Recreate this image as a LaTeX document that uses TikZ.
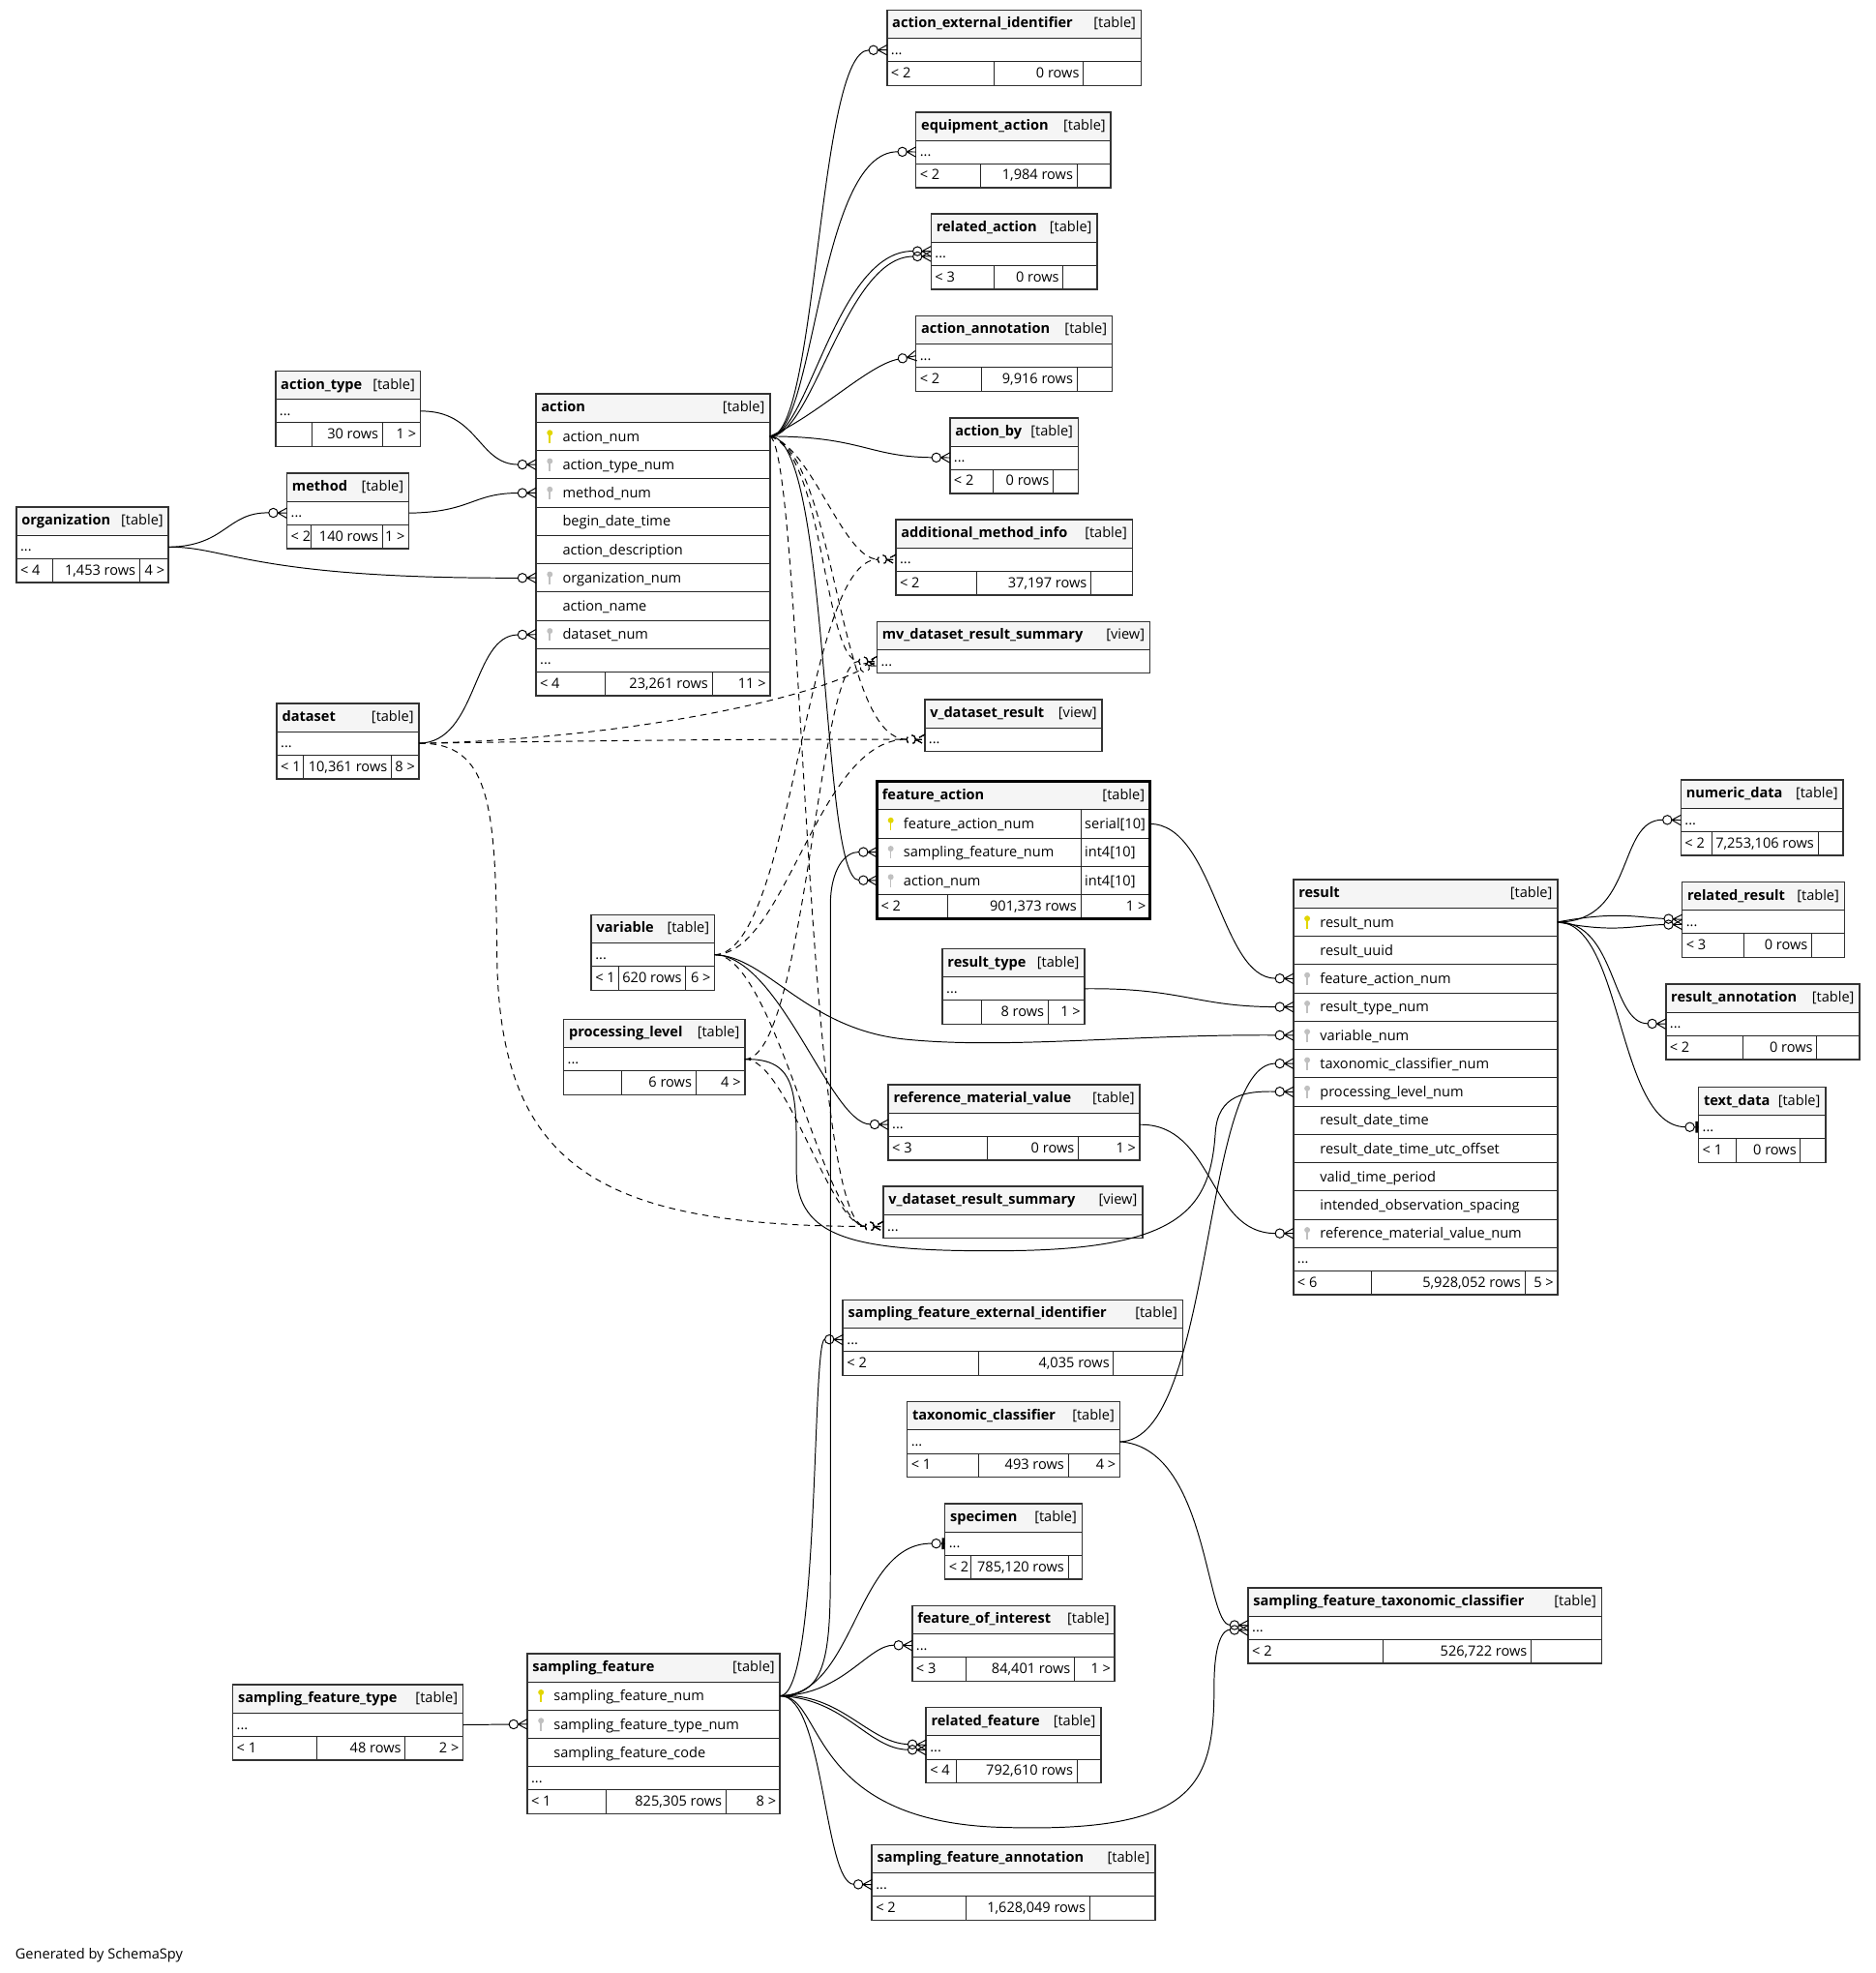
\documentclass[tikz,border=0pt]{standalone}
\usepackage{fontspec}
\setmainfont{Open Sans}
\usetikzlibrary{arrows.meta}
\definecolor{keyY}{RGB}{226,214,0}
\definecolor{keyG}{RGB}{192,192,192}
\definecolor{hdGray}{RGB}{245,245,245}

% zero-or-many and zero-or-one ends
\pgfdeclarearrow{
  name=crowo,
  setup code={
    \pgfarrowssettipend{0pt}
    \pgfarrowssetlineend{-14.4pt}
    \pgfarrowssetbackend{-14.4pt}
    \pgfarrowssetvisualbackend{-14.4pt}
    \pgfarrowshullpoint{0pt}{4pt}
    \pgfarrowshullpoint{0pt}{-4pt}
    \pgfarrowshullpoint{-14.4pt}{0pt}
  },
  drawing code={
    \pgfpathmoveto{\pgfqpoint{0pt}{4pt}}
    \pgfpathlineto{\pgfqpoint{-7.2pt}{0pt}}
    \pgfpathlineto{\pgfqpoint{0pt}{-4pt}}
    \pgfpathmoveto{\pgfqpoint{-7.2pt}{0pt}}
    \pgfpathlineto{\pgfqpoint{0pt}{0pt}}
    \pgfusepathqstroke
    \pgfpathcircle{\pgfqpoint{-10.8pt}{0pt}}{3.6pt}
    \pgfusepathqstroke
  }
}
\pgfdeclarearrow{
  name=baro,
  setup code={
    \pgfarrowssettipend{0pt}
    \pgfarrowssetlineend{-10.5pt}
    \pgfarrowssetbackend{-10.5pt}
    \pgfarrowssetvisualbackend{-10.5pt}
    \pgfarrowshullpoint{0pt}{4.5pt}
    \pgfarrowshullpoint{0pt}{-4.5pt}
    \pgfarrowshullpoint{-10.5pt}{0pt}
  },
  drawing code={
    \pgfpathmoveto{\pgfqpoint{-3.3pt}{0pt}}
    \pgfpathlineto{\pgfqpoint{0pt}{0pt}}
    \pgfusepathqstroke
    \pgfpathcircle{\pgfqpoint{-6.9pt}{0pt}}{3.6pt}
    \pgfusepathqstroke
    \pgfsetlinewidth{2pt}
    \pgfpathmoveto{\pgfqpoint{-1.4pt}{4.5pt}}
    \pgfpathlineto{\pgfqpoint{-1.4pt}{-4.5pt}}
    \pgfusepathqstroke
  }
}

% table pieces
\newcommand{\dbhead}[6]{%
  \node[dbcell,fill=hdGray,minimum width=#4,minimum height=22.5] (#1) at (#2,#3) {};
  \node[dbtext,font=\fontsize{11.2}{13}\selectfont\bfseries] (#1-n) at ([xshift=4,yshift=-3]#1.west) {#5};
  \node[dbtext,anchor=base east] (#1-k) at ([xshift=-4,yshift=-3]#1.east) {[#6]};}
\newcommand{\dbcol}[5][]{%
  \node[dbcell,minimum width=#4,minimum height=22.5] (#2) at (#3.south west) {};
  \node[dbtext] (#2-n) at ([xshift=21,yshift=-4]#2.west) {#5};
  \if\relax\detokenize{#1}\relax\else\pic[#1] at ([xshift=11]#2.west) {dbkey};\fi}
\newcommand{\dbtype}[2]{%
  \node[dbcell,minimum width=55,minimum height=22.5] (#1t) at (#1.north east) {};
  \node[dbtext] (#1t-n) at ([xshift=3,yshift=-4]#1t.west) {#2};}
\newcommand{\dbdots}[3]{%
  \node[dbcell,minimum width=#3,minimum height=18.5] (#1) at (#2.south west) {};
  \node[dbtext] (#1-n) at ([xshift=3,yshift=-3.5]#1.west) {...};}
\newcommand{\dbfoot}[8]{%
  \node[dbcell,minimum width=#3,minimum height=19] (#1a) at (#2.south west) {};
  \node[dbcell,minimum width=#4,minimum height=19] (#1b) at (#1a.north east) {};
  \node[dbcell,minimum width=#5,minimum height=19] (#1c) at (#1b.north east) {};
  \node[dbtext] (#1a-n) at ([xshift=3,yshift=-3.5]#1a.west) {#6};
  \node[dbtext,anchor=base east] (#1b-n) at ([xshift=-3,yshift=-3.5]#1b.east) {#7};
  \node[dbtext,anchor=base east] (#1c-n) at ([xshift=-3,yshift=-3.5]#1c.east) {#8};}
\newcommand{\dbframe}[3][]{\draw[dbline,#1] (#2.north west) rectangle (#3.south east);}

\begin{document}
\begin{tikzpicture}[x={(1pt,0pt)},y={(0pt,-1pt)},
  dbcell/.style={draw=black!85,line width=0.7pt,inner sep=0pt,outer sep=0pt,anchor=north west},
  dbtext/.style={inner sep=0pt,anchor=base west,font=\fontsize{11.2}{13}\selectfont},
  dbline/.style={draw=black!80,line width=1.2pt},
  fk/.style={line width=0.75pt,-crowo},
  fko/.style={line width=0.75pt,-baro},
  imp/.style={fk,dash pattern=on 5pt off 4pt},
  dbkey/.pic={\fill (0,-2.8) circle (2.3pt); \draw[line width=1.2pt] (0,-2) -- (0,5.2);}]
\useasboundingbox (0,0) rectangle (1491,1568);

% action and its neighbours
\dbhead{act}{426}{313}{186}{action}{table}
\dbcol[keyY]{act-1}{act}{186}{action\_num}
\dbcol[keyG]{act-2}{act-1}{186}{action\_type\_num}
\dbcol[keyG]{act-3}{act-2}{186}{method\_num}
\dbcol{act-4}{act-3}{186}{begin\_date\_time}
\dbcol{act-5}{act-4}{186}{action\_description}
\dbcol[keyG]{act-6}{act-5}{186}{organization\_num}
\dbcol{act-7}{act-6}{186}{action\_name}
\dbcol[keyG]{act-8}{act-7}{186}{dataset\_num}
\dbdots{act-d}{act-8}{186}
\dbfoot{act-f}{act-d}{55}{85}{46}{< 4}{23,261 rows}{11 >}
\dbframe{act}{act-fc}

\dbhead{atype}{219}{295}{115}{action\_type}{table}
\dbdots{atype-d}{atype}{115}
\dbfoot{atype-f}{atype-d}{29}{56}{30}{}{30 rows}{1 >}
\dbframe{atype}{atype-fc}

\dbhead{meth}{228}{376}{97}{method}{table}
\dbdots{meth-d}{meth}{97}
\dbfoot{meth-f}{meth-d}{19}{57}{21}{< 2}{140 rows}{1 >}
\dbframe{meth}{meth-fc}

\dbhead{org}{13}{403}{121}{organization}{table}
\dbdots{org-d}{org}{121}
\dbfoot{org-f}{org-d}{29}{69}{23}{< 4}{1,453 rows}{4 >}
\dbframe{org}{org-fc}

\dbhead{dset}{220}{559}{113}{dataset}{table}
\dbdots{dset-d}{dset}{113}
\dbfoot{dset-f}{dset-d}{21}{70}{22}{< 1}{10,361 rows}{8 >}
\dbframe{dset}{dset-fc}

\dbhead{aei}{705}{8}{202}{action\_external\_identifier}{table}
\dbdots{aei-d}{aei}{202}
\dbfoot{aei-f}{aei-d}{85}{71}{46}{< 2}{0 rows}{}
\dbframe{aei}{aei-fc}

\dbhead{eqa}{728}{89}{155}{equipment\_action}{table}
\dbdots{eqa-d}{eqa}{155}
\dbfoot{eqa-f}{eqa-d}{51}{77}{27}{< 2}{1,984 rows}{}
\dbframe{eqa}{eqa-fc}

\dbhead{rela}{740}{170}{132}{related\_action}{table}
\dbdots{rela-d}{rela}{132}
\dbfoot{rela-f}{rela-d}{50}{55}{27}{< 3}{0 rows}{}
\dbframe{rela}{rela-fc}

\dbhead{aann}{728}{251}{156}{action\_annotation}{table}
\dbdots{aann-d}{aann}{156}
\dbfoot{aann-f}{aann-d}{52}{76}{28}{< 2}{9,916 rows}{}
\dbframe{aann}{aann-fc}

\dbhead{aby}{755}{332}{102}{action\_by}{table}
\dbdots{aby-d}{aby}{102}
\dbfoot{aby-f}{aby-d}{34}{48}{20}{< 2}{0 rows}{}
\dbframe{aby}{aby-fc}

\dbhead{ami}{712}{413}{188}{additional\_method\_info}{table}
\dbdots{ami-d}{ami}{188}
\dbfoot{ami-f}{ami-d}{64}{91}{33}{< 2}{37,197 rows}{}
\dbframe{ami}{ami-fc}

\dbhead{mv}{697}{494}{217}{mv\_dataset\_result\_summary}{view}
\dbdots{mv-d}{mv}{217}
\dbframe{mv}{mv-d}

\dbhead{vdr}{735}{556}{141}{v\_dataset\_result}{view}
\dbdots{vdr-d}{vdr}{141}
\dbframe{vdr}{vdr-d}

% feature_action
\dbhead{fa}{697}{621}{217}{feature\_action}{table}
\dbcol[keyY]{fa-1}{fa}{162}{feature\_action\_num}
\dbtype{fa-1}{serial[10]}
\dbcol[keyG]{fa-2}{fa-1}{162}{sampling\_feature\_num}
\dbtype{fa-2}{int4[10]}
\dbcol[keyG]{fa-3}{fa-2}{162}{action\_num}
\dbtype{fa-3}{int4[10]}
\dbfoot{fa-f}{fa-3}{56}{106}{55}{< 2}{901,373 rows}{1 >}
\dbframe[line width=2.6pt,draw=black]{fa}{fa-fc}

\dbhead{var}{470}{727}{98}{variable}{table}
\dbdots{var-d}{var}{98}
\dbfoot{var-f}{var-d}{22}{53}{23}{< 1}{620 rows}{6 >}
\dbframe{var}{var-fc}

\dbhead{plev}{448}{810}{144}{processing\_level}{table}
\dbdots{plev-d}{plev}{144}
\dbfoot{plev-f}{plev-d}{46}{59}{39}{}{6 rows}{4 >}
\dbframe{plev}{plev-fc}

\dbhead{rtype}{749}{754}{113}{result\_type}{table}
\dbdots{rtype-d}{rtype}{113}
\dbfoot{rtype-f}{rtype-d}{31}{53}{29}{}{8 rows}{1 >}
\dbframe{rtype}{rtype-fc}

\dbhead{rmv}{706}{862}{200}{reference\_material\_value}{table}
\dbdots{rmv-d}{rmv}{200}
\dbfoot{rmv-f}{rmv-d}{79}{72}{49}{< 3}{0 rows}{1 >}
\dbframe{rmv}{rmv-fc}

\dbhead{vdrs}{702}{943}{206}{v\_dataset\_result\_summary}{view}
\dbdots{vdrs-d}{vdrs}{206}
\dbframe{vdrs}{vdrs-d}

% result and its neighbours
\dbhead{res}{1028}{699}{210}{result}{table}
\dbcol[keyY]{res-1}{res}{210}{result\_num}
\dbcol{res-2}{res-1}{210}{result\_uuid}
\dbcol[keyG]{res-3}{res-2}{210}{feature\_action\_num}
\dbcol[keyG]{res-4}{res-3}{210}{result\_type\_num}
\dbcol[keyG]{res-5}{res-4}{210}{variable\_num}
\dbcol[keyG]{res-6}{res-5}{210}{taxonomic\_classifier\_num}
\dbcol[keyG]{res-7}{res-6}{210}{processing\_level\_num}
\dbcol{res-8}{res-7}{210}{result\_date\_time}
\dbcol{res-9}{res-8}{210}{result\_date\_time\_utc\_offset}
\dbcol{res-10}{res-9}{210}{valid\_time\_period}
\dbcol{res-11}{res-10}{210}{intended\_observation\_spacing}
\dbcol[keyG]{res-12}{res-11}{210}{reference\_material\_value\_num}
\dbdots{res-d}{res-12}{210}
\dbfoot{res-f}{res-d}{62}{122}{26}{< 6}{5,928,052 rows}{5 >}
\dbframe{res}{res-fc}

\dbhead{num}{1336}{620}{129}{numeric\_data}{table}
\dbdots{num-d}{num}{129}
\dbfoot{num-f}{num-d}{25}{84}{20}{< 2}{7,253,106 rows}{}
\dbframe{num}{num-fc}

\dbhead{relr}{1337}{701}{129}{related\_result}{table}
\dbdots{relr-d}{relr}{129}
\dbfoot{relr-f}{relr-d}{49}{54}{26}{< 3}{0 rows}{}
\dbframe{relr}{relr-fc}

\dbhead{rann}{1324}{782}{154}{result\_annotation}{table}
\dbdots{rann-d}{rann}{154}
\dbfoot{rann-f}{rann-d}{61}{59}{34}{< 2}{0 rows}{}
\dbframe{rann}{rann-fc}

\dbhead{txt}{1350}{864}{101}{text\_data}{table}
\dbdots{txt-d}{txt}{101}
\dbfoot{txt-f}{txt-d}{30}{51}{20}{< 1}{0 rows}{}
\dbframe{txt}{txt-fc}

% sampling_feature and its neighbours
\dbhead{sfei}{670}{1033}{270}{sampling\_feature\_external\_identifier}{table}
\dbdots{sfei-d}{sfei}{270}
\dbfoot{sfei-f}{sfei-d}{108}{107}{55}{< 2}{4,035 rows}{}
\dbframe{sfei}{sfei-fc}

\dbhead{tax}{721}{1114}{169}{taxonomic\_classifier}{table}
\dbdots{tax-d}{tax}{169}
\dbfoot{tax-f}{tax-d}{57}{71}{41}{< 1}{493 rows}{4 >}
\dbframe{tax}{tax-fc}

\dbhead{spec}{751}{1195}{109}{specimen}{table}
\dbdots{spec-d}{spec}{109}
\dbfoot{spec-f}{spec-d}{21}{77}{11}{< 2}{785,120 rows}{}
\dbframe{spec}{spec-fc}

\dbhead{foi}{725}{1276}{161}{feature\_of\_interest}{table}
\dbdots{foi-d}{foi}{161}
\dbfoot{foi-f}{foi-d}{43}{86}{32}{< 3}{84,401 rows}{1 >}
\dbframe{foi}{foi-fc}

\dbhead{relf}{736}{1357}{139}{related\_feature}{table}
\dbdots{relf-d}{relf}{139}
\dbfoot{relf-f}{relf-d}{24}{96}{19}{< 4}{792,610 rows}{}
\dbframe{relf}{relf-fc}

\dbhead{sftc}{992}{1262}{281}{sampling\_feature\_taxonomic\_classifier}{table}
\dbdots{sftc-d}{sftc}{281}
\dbfoot{sftc-f}{sftc-d}{107}{118}{56}{< 2}{526,722 rows}{}
\dbframe{sftc}{sftc-fc}

\dbhead{sf}{419}{1314}{201}{sampling\_feature}{table}
\dbcol[keyY]{sf-1}{sf}{201}{sampling\_feature\_num}
\dbcol[keyG]{sf-2}{sf-1}{201}{sampling\_feature\_type\_num}
\dbcol{sf-3}{sf-2}{201}{sampling\_feature\_code}
\dbdots{sf-d}{sf-3}{201}
\dbfoot{sf-f}{sf-d}{63}{95}{43}{< 1}{825,305 rows}{8 >}
\dbframe{sf}{sf-fc}

\dbhead{sft}{185}{1339}{183}{sampling\_feature\_type}{table}
\dbdots{sft-d}{sft}{183}
\dbfoot{sft-f}{sft-d}{67}{70}{46}{< 1}{48 rows}{2 >}
\dbframe{sft}{sft-fc}

\dbhead{sfann}{693}{1466}{225}{sampling\_feature\_annotation}{table}
\dbdots{sfann-d}{sfann}{225}
\dbfoot{sfann-f}{sfann-d}{75}{98}{52}{< 2}{1,628,049 rows}{}
\dbframe{sfann}{sfann-fc}

\node[dbtext] (gen) at (12,1557) {Generated by SchemaSpy};

% relationships from action
\draw[fk] (act-1.east) .. controls (650,347) and (650,40) .. (aei-d.west);
\draw[fk] (act-1.east) .. controls (648,347) and (650,120) .. (eqa-d.west);
\draw[fk] (act-1.east) .. controls (642,347) and (665,199) .. ([yshift=2]rela-d.west);
\draw[fk] (act-1.east) .. controls (646,347) and (672,204) .. ([yshift=-2]rela-d.west);
\draw[fk] (act-1.east) .. controls (650,330) and (690,290) .. (aann-d.west);
\draw[fk] (act-1.east) .. controls (685,347) and (690,363) .. (aby-d.west);
\draw[fk] (act-1.east) .. controls (660,347) and (652,699) .. (fa-3.west);
\draw[imp] (act-1.east) .. controls (645,355) and (670,444) .. (ami-d.west);
\draw[imp] (act-1.east) .. controls (655,360) and (655,525) .. (mv-d.west);
\draw[imp] (act-1.east) .. controls (665,360) and (665,587) .. (vdr-d.west);
\draw[imp] (act-1.east) .. controls (638,360) and (640,974) .. (vdrs-d.west);

% into action
\draw[fk] (atype-d.east) .. controls (380,326) and (380,369) .. (act-2.west);
\draw[fk] (meth-d.east) .. controls (375,407) and (375,392) .. (act-3.west);
\draw[fk] (org-d.east) .. controls (180,434) and (180,407) .. (meth-d.west);
\draw[fk] (org-d.east) .. controls (180,434) and (200,460) .. (act-6.west);
\draw[fk] (dset-d.east) .. controls (380,590) and (375,505) .. (act-8.west);

% dataset, variable, processing_level
\draw[imp] (dset-d.east) .. controls (480,588) and (630,560) .. (mv-d.west);
\draw[imp] (dset-d.east) .. controls (450,589) and (600,587) .. (vdr-d.west);
\draw[imp] (dset-d.east) .. controls (390,590) and (394,640) .. (395,760)
  .. controls (397,930) and (480,974) .. (vdrs-d.west);
\draw[fk] (var-d.east) .. controls (610,760) and (640,818) .. (720,826)
  .. controls (800,834) and (900,822) .. (res-5.west);
\draw[fk] (var-d.east) .. controls (620,760) and (660,893) .. (rmv-d.west);
\draw[imp] (var-d.east) .. controls (630,758) and (640,444) .. (ami-d.west);
\draw[imp] (var-d.east) .. controls (625,758) and (650,587) .. (vdr-d.west);
\draw[imp] (var-d.east) .. controls (615,758) and (655,974) .. (vdrs-d.west);
\draw[fk] (plev-d.east) .. controls (635,841) and (633,870) .. (633,930)
  .. controls (633,985) and (680,995) .. (800,994)
  .. controls (940,993) and (962,960) .. (966,900)
  .. controls (968,870) and (990,867) .. (res-7.west);
\draw[imp] (plev-d.east) .. controls (640,841) and (650,525) .. (mv-d.west);
\draw[imp] (plev-d.east) .. controls (625,841) and (660,974) .. (vdrs-d.west);

% into result
\draw[fk] (fa-1t.east) .. controls (965,655) and (970,777) .. (res-3.west);
\draw[fk] (rtype-d.east) .. controls (940,785) and (950,800) .. (res-4.west);
\draw[fk] (rmv-d.east) .. controls (965,893) and (960,980) .. (res-12.west);
\draw[fk] (tax-d.east) .. controls (965,1145) and (955,845) .. (res-6.west);
\draw[fk] (tax-d.east) .. controls (960,1150) and (958,1291) .. ([yshift=2]sftc-d.west);

% from result
\draw[fk] (res-1.east) .. controls (1300,733) and (1285,651) .. (num-d.west);
\draw[fk] (res-1.east) .. controls (1285,724) and (1300,729) .. ([yshift=2]relr-d.west);
\draw[fk] (res-1.east) .. controls (1285,742) and (1300,735) .. ([yshift=-2]relr-d.west);
\draw[fk] (res-1.east) .. controls (1285,733) and (1280,813) .. (rann-d.west);
\draw[fko] (res-1.east) .. controls (1290,733) and (1285,895) .. (txt-d.west);

% from sampling_feature
\draw[fk] (sft-d.east) -- (sf-2.west);
\draw[fk] (sf-1.east) .. controls (655,1347) and (660,1320) .. (660,1250) -- (660,720)
  .. controls (660,690) and (672,677) .. (fa-2.west);
\draw[fk] (sf-1.east) .. controls (652,1347) and (645,1064) .. (sfei-d.west);
\draw[fko] (sf-1.east) .. controls (680,1347) and (680,1226) .. (spec-d.west);
\draw[fk] (sf-1.east) .. controls (670,1347) and (690,1307) .. (foi-d.west);
\draw[fk] (sf-1.east) .. controls (668,1345) and (690,1385) .. ([yshift=2]relf-d.west);
\draw[fk] (sf-1.east) .. controls (672,1350) and (690,1390) .. ([yshift=-2]relf-d.west);
\draw[fk] (sf-1.east) .. controls (655,1347) and (655,1497) .. (sfann-d.west);
\draw[fk] (sf-1.east) .. controls (655,1347) and (640,1445) .. (790,1452)
  .. controls (950,1458) and (965,1420) .. (965,1340)
  .. controls (965,1305) and (972,1295) .. ([yshift=-2]sftc-d.west);
\end{tikzpicture}
\end{document}
